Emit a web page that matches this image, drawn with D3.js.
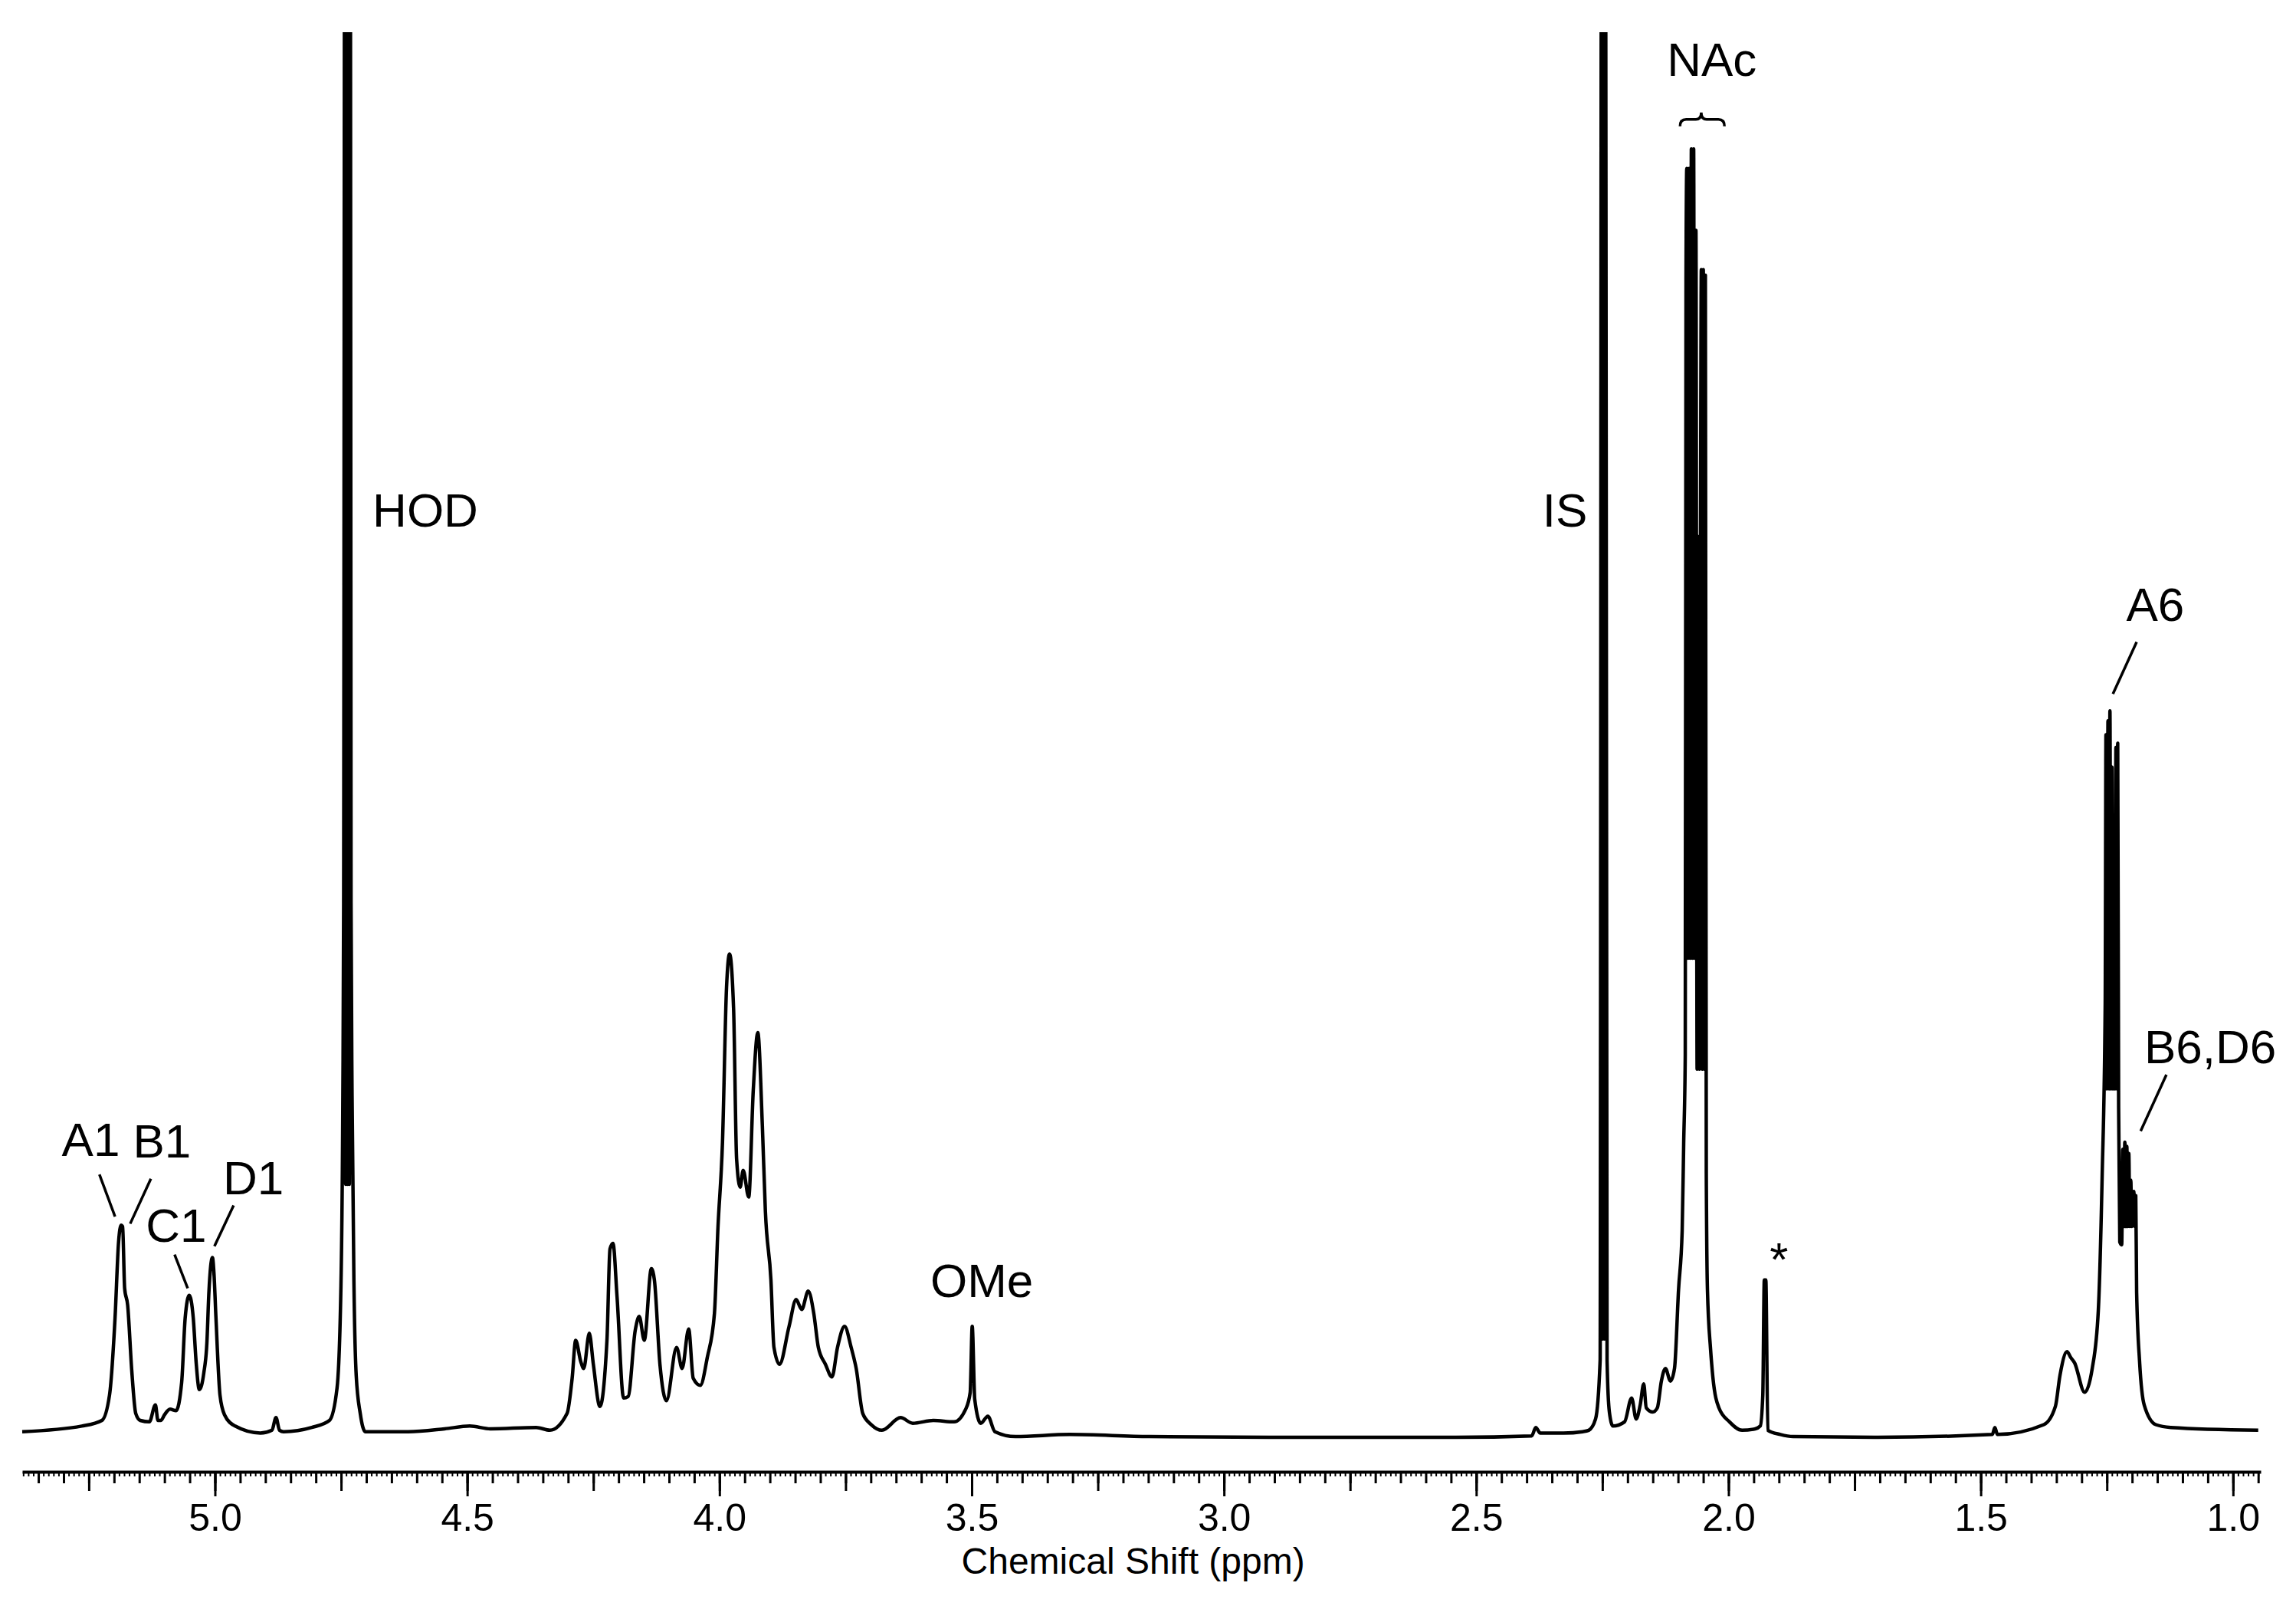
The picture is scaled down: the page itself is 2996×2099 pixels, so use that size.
<!DOCTYPE html>
<html>
<head>
<meta charset="utf-8">
<script src="https://cdn.jsdelivr.net/npm/d3@7"></script>
<style>
  html, body { margin: 0; padding: 0; background: #fff; }
  svg { display: block; }
</style>
</head>
<body>
<svg id="chart" width="2996" height="2099"></svg>
<script>
// ---------- DATA ----------
// chemical shift (ppm) of each trace point
const shiftPpm = [
  5.382, 5.264, 5.224, 5.209, 5.198, 5.191, 5.186, 5.183, 5.179, 5.173,
  5.165, 5.157, 5.148, 5.130, 5.118, 5.113, 5.107, 5.100, 5.089, 5.077,
  5.066, 5.059, 5.051, 5.043, 5.037, 5.031, 5.022, 5.016, 5.012, 5.005,
  5.002, 4.998, 4.990, 4.981, 4.960, 4.910, 4.887, 4.879, 4.872, 4.864,
  4.808, 4.773, 4.758, 4.7503, 4.7465, 4.7449, 4.7427, 4.7408, 4.7390, 4.7372,
  4.7354, 4.7336, 4.7317, 4.7302, 4.7282, 4.7244, 4.720, 4.712, 4.702, 4.617, 4.545, 4.495,
  4.454, 4.363, 4.336, 4.302, 4.292, 4.285, 4.275, 4.269, 4.258, 4.250,
  4.237, 4.223, 4.217, 4.211, 4.203, 4.190, 4.181, 4.167, 4.159, 4.149,
  4.135, 4.129, 4.118, 4.105, 4.085, 4.074, 4.061, 4.052, 4.038, 4.024,
  4.010, 4.003, 3.994, 3.986, 3.980, 3.972, 3.966, 3.959, 3.953, 3.942,
  3.933, 3.924, 3.915, 3.909, 3.898, 3.892, 3.881, 3.862, 3.848, 3.837,
  3.824, 3.813, 3.804, 3.790, 3.777, 3.766, 3.752, 3.739, 3.729, 3.716,
  3.699, 3.678, 3.641, 3.617, 3.576, 3.535, 3.512, 3.503, 3.499, 3.494,
  3.482, 3.468, 3.454, 3.413, 3.306, 3.148, 2.844, 2.540, 2.390, 2.382,
  2.373, 2.327, 2.289, 2.277, 2.2635, 2.2544, 2.2516, 2.2497, 2.2477, 2.2457,
  2.2437, 2.2407, 2.2361, 2.229, 2.206, 2.192, 2.183, 2.175, 2.168, 2.163,
  2.150, 2.141, 2.133, 2.125, 2.115, 2.107, 2.099, 2.0918, 2.0888, 2.0857,
  2.0842, 2.0827, 2.0804, 2.0781, 2.0759, 2.0736, 2.0713, 2.0690, 2.0668, 2.0645,
  2.0622, 2.0599, 2.0577, 2.0554, 2.0539, 2.0519, 2.0499, 2.0478, 2.0458, 2.0440,
  2.0417, 2.0356, 2.031, 2.019, 1.998, 1.973, 1.947, 1.937, 1.932, 1.929,
  1.926, 1.922, 1.897, 1.872, 1.704, 1.477, 1.472, 1.467, 1.375, 1.352,
  1.343, 1.329, 1.322, 1.314, 1.294, 1.279, 1.267, 1.2594, 1.2533, 1.2518,
  1.2498, 1.2478, 1.2458, 1.2439, 1.2419, 1.2399, 1.2379, 1.2360, 1.2340, 1.2320,
  1.2300, 1.2285, 1.2267, 1.2244, 1.2206, 1.2184, 1.2164, 1.2144, 1.2124, 1.2104,
  1.2085, 1.2065, 1.2045, 1.2026, 1.2006, 1.1986, 1.1966, 1.1947, 1.1927, 1.1910,
  1.185, 1.176, 1.153, 1.123, 0.950
];
// relative intensity (% of the visible plot height) of each trace point
const intensity = [
  0.4, 0.8, 1.2, 3.0, 8.5, 13.9, 15.1, 15.0, 10.6, 9.4,
  4.8, 1.7, 1.2, 1.1, 2.3, 1.2, 1.2, 1.6, 2.0, 1.9,
  3.9, 8.5, 10.1, 8.5, 5.2, 3.4, 4.6, 6.7, 10.3, 12.8,
  11.7, 8.5, 3.0, 1.6, 0.8, 0.3, 0.5, 1.4, 0.5, 0.4,
  0.7, 1.2, 3.5, 10.7, 24.3, 38, 120, 18, 120, 18,
  120, 18, 120, 38, 24.3, 10.7, 4.4, 1.7, 0.4, 0.4, 0.6, 0.8,
  0.6, 0.7, 0.5, 1.7, 4.2, 6.9, 5.4, 4.9, 7.4, 5.2,
  2.2, 6.9, 13.4, 13.8, 10.0, 2.8, 2.9, 7.6, 8.6, 6.9,
  12.0, 11.2, 5.2, 2.6, 6.4, 4.9, 7.7, 4.2, 3.7, 5.7,
  8.8, 14.9, 21.0, 32.0, 34.4, 30.5, 19.8, 17.8, 19.0, 17.1,
  24.7, 28.8, 22.2, 16.1, 11.2, 6.4, 5.2, 7.9, 9.8, 9.1,
  10.4, 8.8, 6.4, 5.2, 4.3, 6.4, 7.9, 6.4, 4.9, 1.7,
  0.9, 0.5, 1.4, 1.0, 1.2, 1.1, 2.0, 3.2, 7.9, 2.7,
  1.0, 1.5, 0.4, 0.05, 0.2, 0.05, 0.0, 0.0, 0.1, 0.7,
  0.3, 0.3, 0.4, 0.5, 1.3, 5.5, 120, 7, 120, 7,
  120, 5.5, 1.8, 0.8, 1.1, 2.8, 1.3, 2.3, 3.8, 2.1,
  1.8, 2.1, 4.0, 4.9, 4.0, 4.9, 10.5, 14.7, 20.9, 27.2,
  82.5, 90.3, 34.1, 90.3, 34.1, 91.7, 34.1, 91.7, 34.1, 85.9,
  26.2, 64.1, 26.2, 64.6, 83.1, 26.2, 83.1, 26.2, 82.7, 18.8,
  10.5, 6.3, 4.3, 2.1, 1.1, 0.5, 0.6, 0.8, 3.0, 11.2,
  11.2, 0.5, 0.2, 0.05, 0.0, 0.2, 0.7, 0.2, 0.9, 2.2,
  4.4, 6.1, 5.7, 5.3, 3.2, 4.9, 9.0, 18.5, 30.9, 50.0,
  24.8, 51.0, 24.8, 51.7, 24.8, 47.7, 24.8, 42.6, 24.8, 49.1,
  24.8, 49.4, 23.5, 13.9, 13.7, 20.5, 15.0, 21.0, 15.0, 20.7,
  15.0, 20.2, 15.0, 18.3, 15.0, 16.9, 17.5, 15.0, 17.2, 10.3,
  5.3, 2.3, 0.9, 0.7, 0.5
];

// axis
const majorTicks = [5.0, 4.5, 4.0, 3.5, 3.0, 2.5, 2.0, 1.5, 1.0];
const tickLabels = ["5.0", "4.5", "4.0", "3.5", "3.0", "2.5", "2.0", "1.5", "1.0"];
const axisTitle = "Chemical Shift (ppm)";

// peak annotations (anchored at ppm / intensity)
const labelText = ["A1", "B1", "C1", "D1", "HOD", "IS", "NAc", "OMe", "*", "A6", "B6,D6"];
const labelPpm  = [5.246, 5.105, 5.077, 4.924, 4.583, 2.324, 2.033, 3.480, 1.900, 1.154, 1.045];
const labelInt  = [20.0, 19.9, 13.9, 17.3, 64.8, 64.8, 96.9, 10.0, 11.5, 58.1, 26.6];

// leader lines: start (near label) and end (near peak)
const leaderPpmA = [5.229, 5.127, 5.080, 4.963, 1.191, 1.132];
const leaderIntA = [18.7, 18.4, 13.0, 16.5, 56.6, 25.8];
const leaderPpmB = [5.198, 5.168, 5.054, 5.001, 1.238, 1.183];
const leaderIntB = [15.7, 15.2, 10.6, 13.6, 52.9, 21.8];

// NAc brace (left end, tip, right end) and its level
const bracePpm = [2.096, 2.054, 2.008];
const braceInt = 93.8;

// ---------- DRAWING ----------
const W = 2996, H = 2099;
const svg = d3.select("#chart");
svg.append("rect").attr("width", W).attr("height", H).attr("fill", "#fff");

const plotLeft = 29, plotRight = 2950, plotTop = 42, baseY = 1875, axisY = 1920;
const font = "'Liberation Sans', Arial, Helvetica, sans-serif";

const x = d3.scaleLinear().domain([5.382, 0.945]).range([plotLeft, plotRight]);
const y = d3.scaleLinear().domain([0, 100]).range([baseY, plotTop]);

svg.append("defs").append("clipPath").attr("id", "plotClip")
  .append("rect").attr("x", 0).attr("y", plotTop).attr("width", W).attr("height", axisY - plotTop);

const n = Math.min(shiftPpm.length, intensity.length);
const points = d3.range(n).map(i => [shiftPpm[i], intensity[i]]);
const line = d3.line().x(d => x(d[0])).y(d => y(d[1])).curve(d3.curveMonotoneX);

svg.append("g").attr("clip-path", "url(#plotClip)")
  .append("path")
  .datum(points)
  .attr("d", line)
  .attr("fill", "none")
  .attr("stroke", "#000")
  .attr("stroke-width", 4.5)
  .attr("stroke-linejoin", "round");

// axis with several tick levels
const axisG = svg.append("g").attr("transform", `translate(0,${axisY})`);
const fine = d3.range(95, 539).map(d => d / 100);
const twentieth = d3.range(19, 108).map(d => d / 20);
const quarter = d3.range(4, 22).map(d => d / 4);

function tickLevel(vals, size, width) {
  const g = axisG.append("g")
    .call(d3.axisBottom(x).tickValues(vals).tickSize(size).tickSizeOuter(0).tickFormat(""));
  g.select(".domain").remove();
  g.selectAll(".tick line").attr("stroke", "#000").attr("stroke-width", width);
}
tickLevel(fine, 6, 2);
tickLevel(twentieth, 15, 3);
tickLevel(quarter, 25, 3);

const majorG = axisG.append("g")
  .call(d3.axisBottom(x).tickValues(majorTicks).tickSize(32).tickSizeOuter(0).tickPadding(9)
    .tickFormat((d, i) => tickLabels[i]));
majorG.select(".domain").attr("stroke", "#000").attr("stroke-width", 4);
majorG.selectAll(".tick line").attr("stroke", "#000").attr("stroke-width", 3);
majorG.selectAll(".tick text")
  .attr("font-family", font).attr("font-size", 50).attr("fill", "#000");

svg.append("text")
  .attr("x", x(3.18)).attr("y", 2053)
  .attr("text-anchor", "middle")
  .attr("font-family", font).attr("font-size", 48).attr("fill", "#000")
  .text(axisTitle);

// peak labels
svg.append("g").selectAll("text")
  .data(labelText)
  .join("text")
  .attr("x", (d, i) => x(labelPpm[i]))
  .attr("y", (d, i) => y(labelInt[i]))
  .attr("text-anchor", "middle")
  .attr("font-family", font).attr("font-size", 62).attr("fill", "#000")
  .text(d => d);

// leader lines
svg.append("g").selectAll("line")
  .data(leaderPpmA)
  .join("line")
  .attr("x1", (d, i) => x(leaderPpmA[i]))
  .attr("y1", (d, i) => y(leaderIntA[i]))
  .attr("x2", (d, i) => x(leaderPpmB[i]))
  .attr("y2", (d, i) => y(leaderIntB[i]))
  .attr("stroke", "#000").attr("stroke-width", 3.5);

// brace over NAc
const bx0 = x(bracePpm[0]), bxm = x(bracePpm[1]), bx1 = x(bracePpm[2]), by = y(braceInt);
const bp = d3.path();
bp.moveTo(bx0, by + 9);
bp.quadraticCurveTo(bx0, by, bx0 + 8, by);
bp.lineTo(bxm - 7, by);
bp.quadraticCurveTo(bxm, by, bxm, by - 9);
bp.quadraticCurveTo(bxm, by, bxm + 7, by);
bp.lineTo(bx1 - 8, by);
bp.quadraticCurveTo(bx1, by, bx1, by + 9);
svg.append("path").attr("d", bp.toString())
  .attr("fill", "none").attr("stroke", "#000").attr("stroke-width", 3.5);
</script>
</body>
</html>
